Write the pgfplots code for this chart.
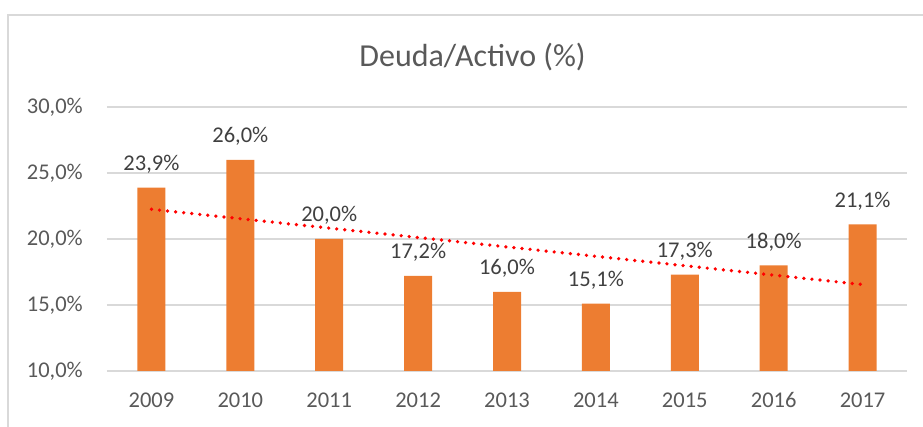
\documentclass[border=0pt]{standalone}
\usepackage{fontspec}
\setmainfont{Carlito}
\usepackage{pgfplots}
\pgfplotsset{compat=1.18}
\definecolor{barorange}{HTML}{ED7D31}
\definecolor{gridgray}{HTML}{D9D9D9}
\definecolor{ticktext}{HTML}{595959}
\definecolor{labeltext}{HTML}{404040}
\begin{document}
\begin{tikzpicture}
\useasboundingbox (0pt,0pt) rectangle (923pt,427pt);
% chart frame (only left and top edges visible)
\draw[gridgray, line width=1.3pt] (8pt,0pt) -- (8pt,412pt) -- (923pt,412pt);
\node[anchor=base, text=ticktext, inner sep=0pt, font=\fontsize{32}{38}\selectfont]
  at (472.5pt,360pt) {Deuda/Activo (\%)};
\begin{axis}[
  at={(107pt,56pt)}, anchor=south west,
  scale only axis, width=800pt, height=264pt,
  xmin=-0.5, xmax=8.5, ymin=10, ymax=30,
  xtick={0,...,8},
  xticklabels={2009,2010,2011,2012,2013,2014,2015,2016,2017},
  ytick={10,15,20,25,30},
  yticklabels={10{,}0\%,15{,}0\%,20{,}0\%,25{,}0\%,30{,}0\%},
  major tick length=0pt,
  axis lines*=left,
  y axis line style={draw=none},
  x axis line style={gridgray, line width=1.3pt, -},
  ymajorgrids,
  grid style={gridgray, line width=1.3pt},
  tick label style={font=\fontsize{22.5}{27}\selectfont, text=ticktext, inner sep=0pt},
  yticklabel style={anchor=east, xshift=-24pt},
  xticklabel style={anchor=base, yshift=-37pt},
  clip=false,
]
\addplot[ybar, bar width=28pt, fill=barorange, draw=none,
  point meta=explicit symbolic,
  nodes near coords,
  every node near coord/.append style={anchor=base, yshift=17pt, inner sep=0pt,
    font=\fontsize{22.5}{27}\selectfont, text=labeltext}]
  coordinates {
    (0,23.9) [23,9\%]
    (1,26.0) [26,0\%]
    (2,20.0) [20,0\%]
    (3,17.2) [17,2\%]
    (4,16.0) [16,0\%]
    (5,15.1) [15,1\%]
    (6,17.3) [17,3\%]
    (7,18.0) [18,0\%]
    (8,21.1) [21,1\%]
  };
% linear trend line, end points
\addplot[red, line width=3.7pt, line cap=round, dash pattern=on 0pt off 8.1pt]
  coordinates {(0,22.25) (8,16.55)};
\end{axis}
\end{tikzpicture}
\end{document}
